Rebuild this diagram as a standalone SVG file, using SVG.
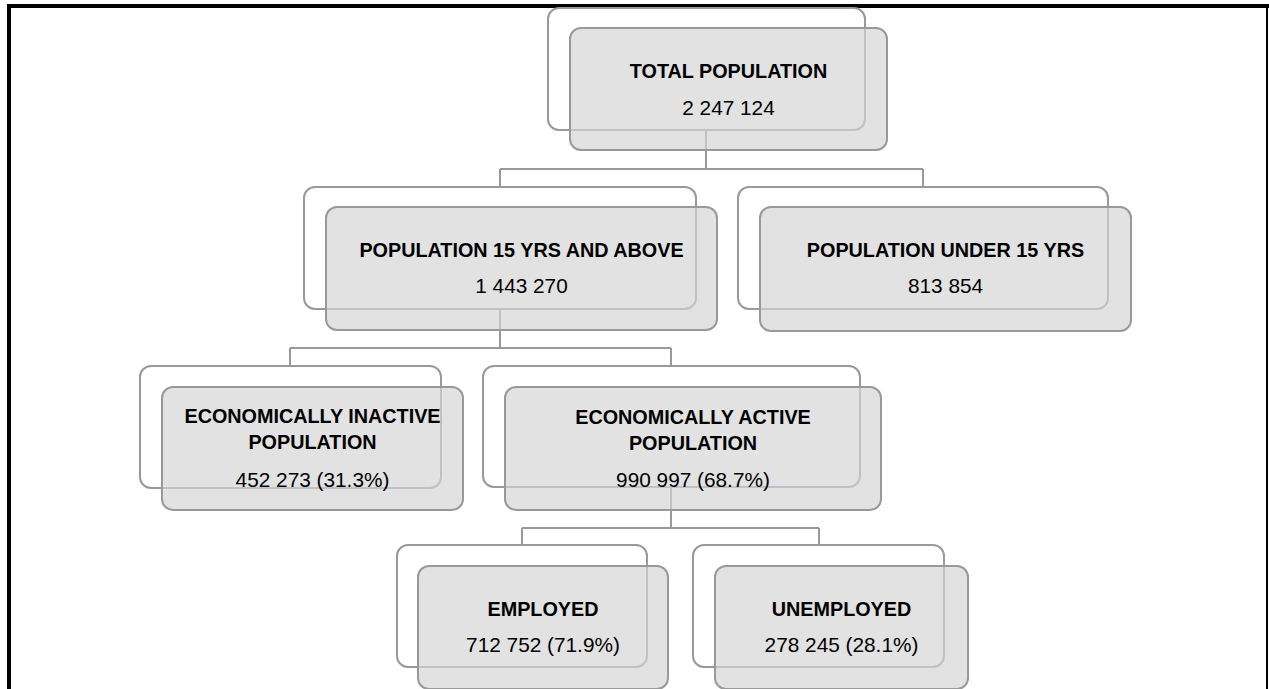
<svg xmlns="http://www.w3.org/2000/svg" width="1269" height="689" viewBox="0 0 1269 689">
  <style>
    .back { fill: #ffffff; stroke: #999999; stroke-width: 2; }
    .front { fill: #d4d4d4; fill-opacity: 0.68; stroke: #999999; stroke-width: 2; }
    .conn { fill: none; stroke: #999999; stroke-width: 2; }
    .title { font-family: "Liberation Sans", Arial, sans-serif; font-weight: bold; font-size: 19.8px; fill: #000; text-anchor: middle; }
    .value { font-family: "Liberation Sans", Arial, sans-serif; font-size: 20.8px; fill: #000; text-anchor: middle; }
  </style>
  <rect width="1269" height="689" fill="#ffffff"/>

  <!-- page frame -->
  <g id="frame" fill="none" stroke="#000000">
    <line x1="9" y1="4" x2="9" y2="689" stroke-width="4"/>
    <line x1="7" y1="6" x2="1269" y2="6" stroke-width="4"/>
    <line x1="1267" y1="4" x2="1267" y2="689" stroke-width="2"/>
  </g>

  <!-- connectors -->
  <g id="connectors">
    <path class="conn" d="M706,130 V169 M500,169 H923 M500,169 V187 M923,169 V187"/>
    <path class="conn" d="M500,309 V348 M290,348 H671 M290,348 V366 M671,348 V366"/>
    <path class="conn" d="M671,487 V528 M522,528 H819 M522,528 V545 M819,528 V545"/>
  </g>

  <g id="total-population">
    <rect class="back" x="548" y="8" width="317" height="122" rx="11"/>
    <rect class="front" x="570" y="28" width="317" height="122" rx="11"/>
    <text class="title" x="728.5" y="78">TOTAL POPULATION</text>
    <text class="value" x="728.5" y="115">2 247 124</text>
  </g>

  <g id="population-15-and-above">
    <rect class="back" x="304" y="187" width="392" height="122" rx="11"/>
    <rect class="front" x="326" y="207" width="391" height="123" rx="11"/>
    <text class="title" x="521.5" y="257">POPULATION 15 YRS AND ABOVE</text>
    <text class="value" x="521.5" y="293">1 443 270</text>
  </g>

  <g id="population-under-15">
    <rect class="back" x="738" y="187" width="370" height="122" rx="11"/>
    <rect class="front" x="760" y="207" width="371" height="124" rx="11"/>
    <text class="title" x="945.5" y="257">POPULATION UNDER 15 YRS</text>
    <text class="value" x="945.5" y="293">813 854</text>
  </g>

  <g id="economically-inactive">
    <rect class="back" x="140" y="366" width="301" height="122" rx="11"/>
    <rect class="front" x="162" y="387" width="301" height="123" rx="11"/>
    <text class="title" x="312.5" y="423">ECONOMICALLY INACTIVE</text>
    <text class="title" x="312.5" y="449">POPULATION</text>
    <text class="value" x="312.5" y="487">452 273 (31.3%)</text>
  </g>

  <g id="economically-active">
    <rect class="back" x="483" y="366" width="377" height="121" rx="11"/>
    <rect class="front" x="505" y="387" width="376" height="123" rx="11"/>
    <text class="title" x="693" y="424">ECONOMICALLY ACTIVE</text>
    <text class="title" x="693" y="450">POPULATION</text>
    <text class="value" x="693" y="487">990 997 (68.7%)</text>
  </g>

  <g id="employed">
    <rect class="back" x="397" y="545" width="250" height="122" rx="11"/>
    <rect class="front" x="418" y="566" width="250" height="123" rx="11"/>
    <text class="title" x="543" y="616">EMPLOYED</text>
    <text class="value" x="543" y="652">712 752 (71.9%)</text>
  </g>

  <g id="unemployed">
    <rect class="back" x="693" y="545" width="251" height="122" rx="11"/>
    <rect class="front" x="715" y="566" width="253" height="123" rx="11"/>
    <text class="title" x="841.5" y="616">UNEMPLOYED</text>
    <text class="value" x="841.5" y="652">278 245 (28.1%)</text>
  </g>
</svg>
